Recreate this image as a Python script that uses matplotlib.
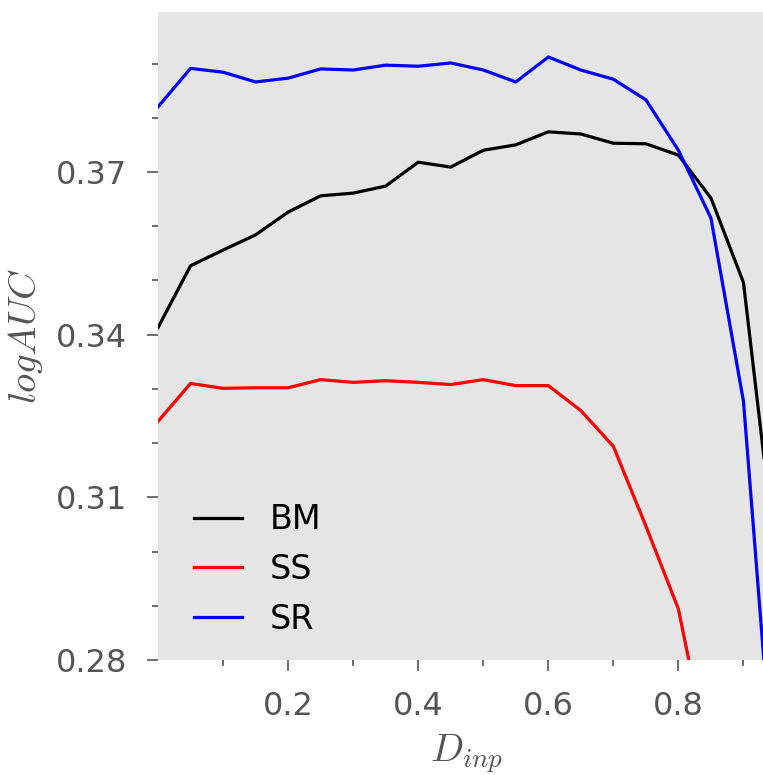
import matplotlib
matplotlib.use("Agg")
import matplotlib.pyplot as plt
from matplotlib.ticker import FixedLocator, FormatStrFormatter

x = [0.0, 0.05, 0.1, 0.15, 0.2, 0.25, 0.3, 0.35, 0.4, 0.45, 0.5,
     0.55, 0.6, 0.65, 0.7, 0.75, 0.8, 0.85, 0.9, 0.95]
bm = [0.3413, 0.3527, 0.3556, 0.3584, 0.3626, 0.3656, 0.3661, 0.3674, 0.3718, 0.3709,
      0.3740, 0.3750, 0.3774, 0.3770, 0.3753, 0.3752, 0.3731, 0.3652, 0.3496, 0.2984]
ss = [0.3240, 0.3310, 0.3301, 0.3302, 0.3302, 0.3317, 0.3312, 0.3315, 0.3312, 0.3308,
      0.3317, 0.3306, 0.3306, 0.3260, 0.3194, 0.3047, 0.2894, 0.2600, 0.2400, 0.2200]
sr = [0.3820, 0.3891, 0.3884, 0.3866, 0.3873, 0.3890, 0.3888, 0.3897, 0.3895, 0.3901,
      0.3888, 0.3866, 0.3912, 0.3888, 0.3871, 0.3833, 0.3740, 0.3615, 0.3277, 0.2517]
labels = ["BM", "SS", "SR"]
colors = ["black", "red", "blue"]

yticks_major = [0.28, 0.31, 0.34, 0.37]
yticks_minor = [0.29, 0.30, 0.32, 0.33, 0.35, 0.36, 0.38, 0.39]
xticks_major = [0.2, 0.4, 0.6, 0.8]
xticks_minor = [0.1, 0.3, 0.5, 0.7, 0.9]

plt.rcParams['mathtext.fontset'] = 'cm'
W, H = 763, 775
fig = plt.figure(figsize=(W / 100, H / 100), dpi=100)
left, right, top, bottom = 158, 776, 12, 660
ax = fig.add_axes([left / W, 1 - bottom / H, (right - left) / W, (bottom - top) / H])
ax.set_facecolor('#e5e5e5')
for s in ax.spines.values():
    s.set_visible(False)

for ys, lab, c in zip([bm, ss, sr], labels, colors):
    ax.plot(x, ys, color=c, lw=2.3, label=lab)

ax.set_xlim(0, 0.95)
ax.set_ylim(0.28, 0.3995)
ax.yaxis.set_major_locator(FixedLocator(yticks_major))
ax.yaxis.set_minor_locator(FixedLocator(yticks_minor))
ax.xaxis.set_major_locator(FixedLocator(xticks_major))
ax.xaxis.set_minor_locator(FixedLocator(xticks_minor))
ax.yaxis.set_major_formatter(FormatStrFormatter('%.2f'))
ax.xaxis.set_major_formatter(FormatStrFormatter('%.1f'))
ax.tick_params(which='major', direction='out', length=8, width=1.2, color='#555555',
               labelsize=23, labelcolor='#555555', pad=14)
ax.tick_params(which='minor', direction='out', length=4, width=1.2, color='#555555')
ax.tick_params(top=False, right=False)

ax.set_xlabel('$D_{inp}$', fontsize=28, color='#555555', labelpad=8)
ax.set_ylabel('$logAUC$', fontsize=28, color='#555555', labelpad=8)

leg = ax.legend(loc='lower left', frameon=False, fontsize=24, handlelength=1.45,
                handletextpad=0.85, labelspacing=0.5, bbox_to_anchor=(0.009, -0.009))

fig.savefig('out.png', dpi=100)
